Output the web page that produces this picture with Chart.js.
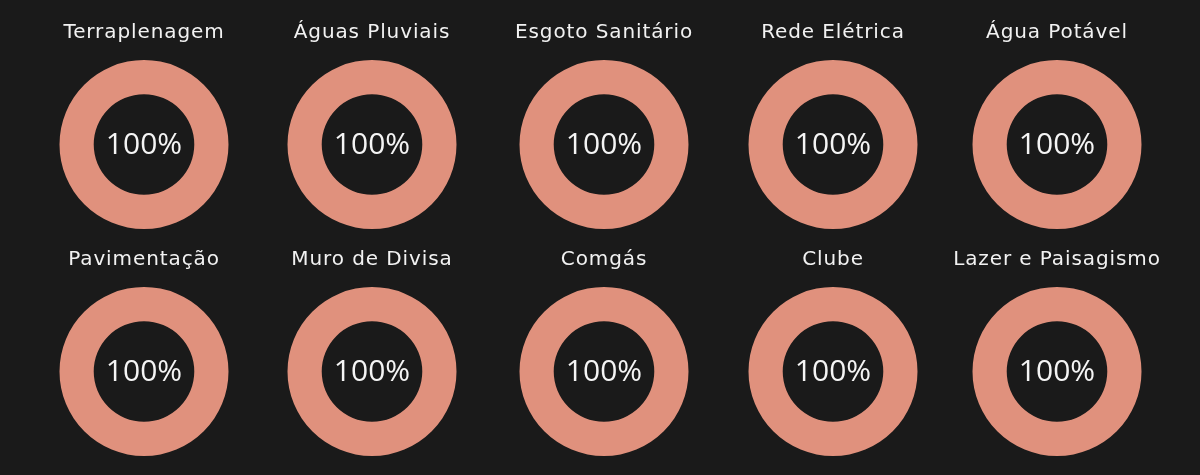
<!DOCTYPE html>
<html>
<head>
<meta charset="utf-8">
<script src="https://cdn.jsdelivr.net/npm/chart.js@4"></script>
<style>
  html, body { margin: 0; padding: 0; background: #1a1a1a; }
  body { width: 1200px; height: 475px; position: relative; overflow: hidden; }
  .cell { position: absolute; width: 228px; height: 219px; }
  .preload { position: absolute; left: -1000px; top: -1000px; }
</style>
</head>
<body>
<span class="preload" style="font-family:'Open Sans'">100%</span>
<span class="preload" style="font-family:'DejaVu Sans'">Terraplenagem</span>
<script>
const categories = ["Terraplenagem", "Águas Pluviais", "Esgoto Sanitário", "Rede Elétrica", "Água Potável",
                    "Pavimentação", "Muro de Divisa", "Comgás", "Clube", "Lazer e Paisagismo"];
const progress = [100, 100, 100, 100, 100, 100, 100, 100, 100, 100];

const layoutCols = [144, 372, 604, 833, 1057];
const layoutRows = [10, 237];
const doneColor = "#e0917d";
const restColor = "#3a3a3a";

const titleSpacing = {
  id: "titleSpacing",
  beforeDraw(chart) { chart.ctx.letterSpacing = "0.9px"; },
  beforeDatasetsDraw(chart) { chart.ctx.letterSpacing = "0px"; }
};

const centerText = {
  id: "centerText",
  afterDatasetsDraw(chart) {
    const meta = chart.getDatasetMeta(0);
    const arc = meta.data[0];
    if (!arc) return;
    const ctx = chart.ctx;
    ctx.save();
    ctx.letterSpacing = "0px";
    ctx.font = "400 30px 'Open Sans', sans-serif";
    ctx.fillStyle = "#f5f5f5";
    ctx.textAlign = "center";
    ctx.textBaseline = "middle";
    ctx.fillText(chart.data.datasets[0].data[0] + "%", arc.x, arc.y + 1);
    ctx.restore();
  }
};

function build() {
  categories.forEach((name, i) => {
    const div = document.createElement("div");
    div.className = "cell";
    div.style.left = (layoutCols[i % 5] - 114) + "px";
    div.style.top = layoutRows[Math.floor(i / 5)] + "px";
    const canvas = document.createElement("canvas");
    div.appendChild(canvas);
    document.body.appendChild(div);
    new Chart(canvas, {
      type: "doughnut",
      data: {
        labels: ["Concluído", "Restante"],
        datasets: [{
          data: [progress[i], 100 - progress[i]],
          backgroundColor: [doneColor, restColor],
          borderWidth: 0
        }]
      },
      options: {
        responsive: true,
        maintainAspectRatio: false,
        animation: false,
        cutout: "59.5%",
        layout: { padding: 0 },
        plugins: {
          legend: { display: false },
          tooltip: { enabled: false },
          title: {
            display: true,
            text: name,
            color: "#f2f2f2",
            font: { family: "'DejaVu Sans', sans-serif", size: 20, weight: "400", lineHeight: 1.2 },
            padding: { top: 11, bottom: 15 }
          }
        }
      },
      plugins: [titleSpacing, centerText]
    });
  });
}

Promise.all([
  document.fonts.load("400 30px 'Open Sans'"),
  document.fonts.load("400 20px 'DejaVu Sans'")
]).then(build, build);
</script>
</body>
</html>
